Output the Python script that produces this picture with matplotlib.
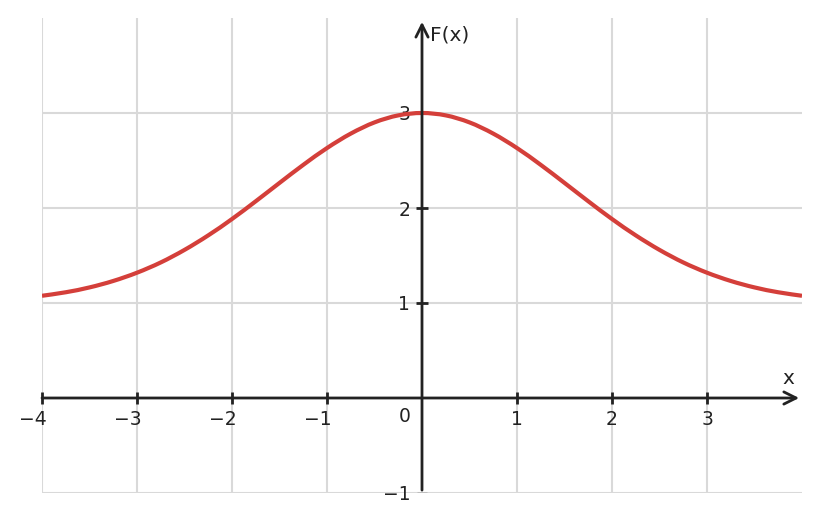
import numpy as np
import matplotlib.pyplot as plt
from matplotlib.path import Path
from matplotlib.patches import PathPatch
from matplotlib.transforms import ScaledTranslation

# F(x) at steps of 0.25
x_vals = [-4.0, -3.75, -3.5, -3.25, -3.0, -2.75, -2.5, -2.25, -2.0, -1.75, -1.5, -1.25, -1.0,
          -0.75, -0.5, -0.25, 0.0, 0.25, 0.5, 0.75, 1.0, 1.25, 1.5, 1.75, 2.0, 2.25, 2.5,
          2.75, 3.0, 3.25, 3.5, 3.75, 4.0]
f_vals = [1.076, 1.113, 1.164, 1.232, 1.319, 1.427, 1.559, 1.712, 1.884, 2.071, 2.264, 2.454, 2.631,
          2.783, 2.901, 2.975, 3.000, 2.975, 2.901, 2.783, 2.631, 2.454, 2.264, 2.071, 1.884, 1.712, 1.559,
          1.427, 1.319, 1.232, 1.164, 1.113, 1.076]
x_ticks = [-4, -3, -2, -1, 1, 2, 3]
y_ticks = [-1, 1, 2, 3]

ink = '#222222'
fig = plt.figure(figsize=(8.21, 5.22), dpi=100)
ax = fig.add_axes([42 / 821, 29 / 522, 760 / 821, 475 / 522])

ax.set_xlim(-4, 4)
ax.set_ylim(-1, 4)

# grid
for gx in [-4, -3, -2, -1, 1, 2, 3]:
    ax.axvline(gx, color='#d9d9d9', lw=1.5, zorder=0)
for gy in [-1, 1, 2, 3]:
    ax.axhline(gy, color='#d9d9d9', lw=1.5, zorder=0)

# smooth curve through the read points (Catmull-Rom as cubic Bezier segments)
pts = np.column_stack([x_vals, f_vals])
verts = [pts[0]]
codes = [Path.MOVETO]
for i in range(len(pts) - 1):
    p0 = pts[max(i - 1, 0)]
    p1 = pts[i]
    p2 = pts[i + 1]
    p3 = pts[min(i + 2, len(pts) - 1)]
    verts += [p1 + (p2 - p0) / 6, p2 - (p3 - p1) / 6, p2]
    codes += [Path.CURVE4] * 3
ax.add_patch(PathPatch(Path(verts, codes), fill=False, edgecolor='#d43f3a', lw=3, zorder=3,
                       capstyle='butt'))

# axes through zero, drawn as arrows
for s in ['top', 'right', 'left', 'bottom']:
    ax.spines[s].set_visible(False)
ax.spines['left'].set_position('zero')
ax.spines['bottom'].set_position('zero')
ax.annotate('', xy=(3.97, 0), xytext=(-4, 0),
            arrowprops=dict(arrowstyle='->', lw=2, color=ink, mutation_scale=22, shrinkA=0, shrinkB=0),
            annotation_clip=False, zorder=4)
ax.annotate('', xy=(0, 3.96), xytext=(0, -0.97),
            arrowprops=dict(arrowstyle='->', lw=2, color=ink, mutation_scale=22, shrinkA=0, shrinkB=0),
            annotation_clip=False, zorder=4)

ax.set_xticks(x_ticks)
ax.set_xticklabels([f'\u2212{-t}' if t < 0 else str(t) for t in x_ticks])
ax.set_yticks(y_ticks)
ax.set_yticklabels([f'\u2212{-t}' if t < 0 else str(t) for t in y_ticks])
ax.tick_params(axis='both', direction='inout', length=9, width=2, color=ink,
               labelsize=13.5, labelcolor=ink, pad=4)

# negative x labels sit with the digit under the tick
for t, lab in zip(x_ticks, ax.get_xticklabels()):
    if t < 0:
        lab.set_transform(lab.get_transform() + ScaledTranslation(-9 / 100, 0, fig.dpi_scale_trans))

# the -1 tick is cut by the bottom edge of the plot
ax.yaxis.get_major_ticks()[0].tick1line.set_visible(False)
ax.plot([-0.048, 0.048], [-1, -1], color='#bbbbbb', lw=2, clip_on=True, zorder=4,
        solid_capstyle='butt')

ax.text(-0.18, -0.1, '0', ha='center', va='top', fontsize=13.5, color=ink)
ax.text(3.86, 0.1, 'x', ha='center', va='bottom', fontsize=14.5, color=ink)
ax.text(0.08, 3.82, 'F(x)', ha='left', va='center', fontsize=14.5, color=ink)

fig.savefig('out.png', dpi=100)
